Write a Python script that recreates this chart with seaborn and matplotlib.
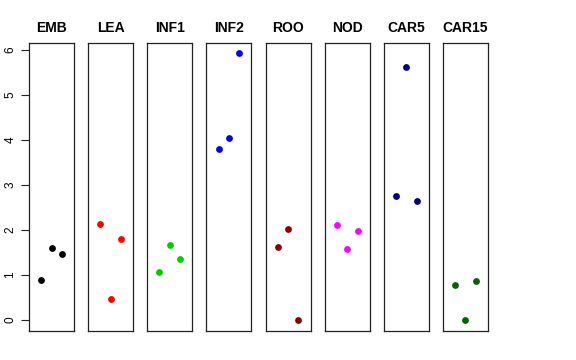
import matplotlib
matplotlib.use("Agg")
import matplotlib.pyplot as plt
import seaborn as sns
import pandas as pd

sns.set_style("white")
plt.rcParams['font.family'] = ['Liberation Sans', 'DejaVu Sans']
plt.rcParams['text.color'] = 'black'
plt.rcParams['axes.labelcolor'] = 'black'
plt.rcParams['ytick.color'] = 'black'
plt.rcParams['xtick.color'] = 'black'

tissues = ["EMB", "LEA", "INF1", "INF2", "ROO", "NOD", "CAR5", "CAR15"]
colors = ["#000000", "#FF0000", "#00CD00", "#0000FF", "#8B0000", "#FF00FF", "#000080", "#006400"]
replicate = [1, 2, 3]
values = {
    "EMB":   [0.88, 1.59, 1.47],
    "LEA":   [2.14, 0.47, 1.79],
    "INF1":  [1.07, 1.66, 1.36],
    "INF2":  [3.81, 4.05, 5.93],
    "ROO":   [1.63, 2.03, 0.00],
    "NOD":   [2.12, 1.58, 1.97],
    "CAR5":  [2.76, 5.63, 2.65],
    "CAR15": [0.78, 0.00, 0.87],
}
yticks = [0, 1, 2, 3, 4, 5, 6]

rows = []
for t in tissues:
    for r, v in zip(replicate, values[t]):
        rows.append({"tissue": t, "rep": r, "value": v})
df = pd.DataFrame(rows)

fig, axes = plt.subplots(1, len(tissues), figsize=(5.76, 3.6), dpi=100, sharey=True)
fig.subplots_adjust(left=29/576, right=488/576, top=1-43/360, bottom=1-331/360, wspace=0.314)

for i, (ax, t, c) in enumerate(zip(axes, tissues, colors)):
    sub = df[df["tissue"] == t]
    sns.scatterplot(data=sub, x="rep", y="value", ax=ax, color=c, s=24, linewidth=0, legend=False)
    ax.set_xlim(-0.16, 4.16)
    ax.set_ylim(-0.244, 6.156)
    ax.set_xticks([])
    ax.set_xlabel("")
    ax.set_ylabel("")
    ax.set_title(t, fontsize=10, fontweight="bold", pad=8, color="black")
    for sp in ax.spines.values():
        sp.set_visible(True)
        sp.set_color("#222222")
        sp.set_linewidth(0.9)
    if i == 0:
        ax.set_yticks(yticks)
        ax.set_yticklabels([str(v) for v in yticks], rotation=90, va="center", fontsize=8.5, color="black")
        ax.tick_params(axis="y", left=True, length=6, width=0.8, pad=3, color="#222222")
    else:
        ax.tick_params(axis="y", left=False, labelleft=False)

fig.savefig("out.png", dpi=100)
